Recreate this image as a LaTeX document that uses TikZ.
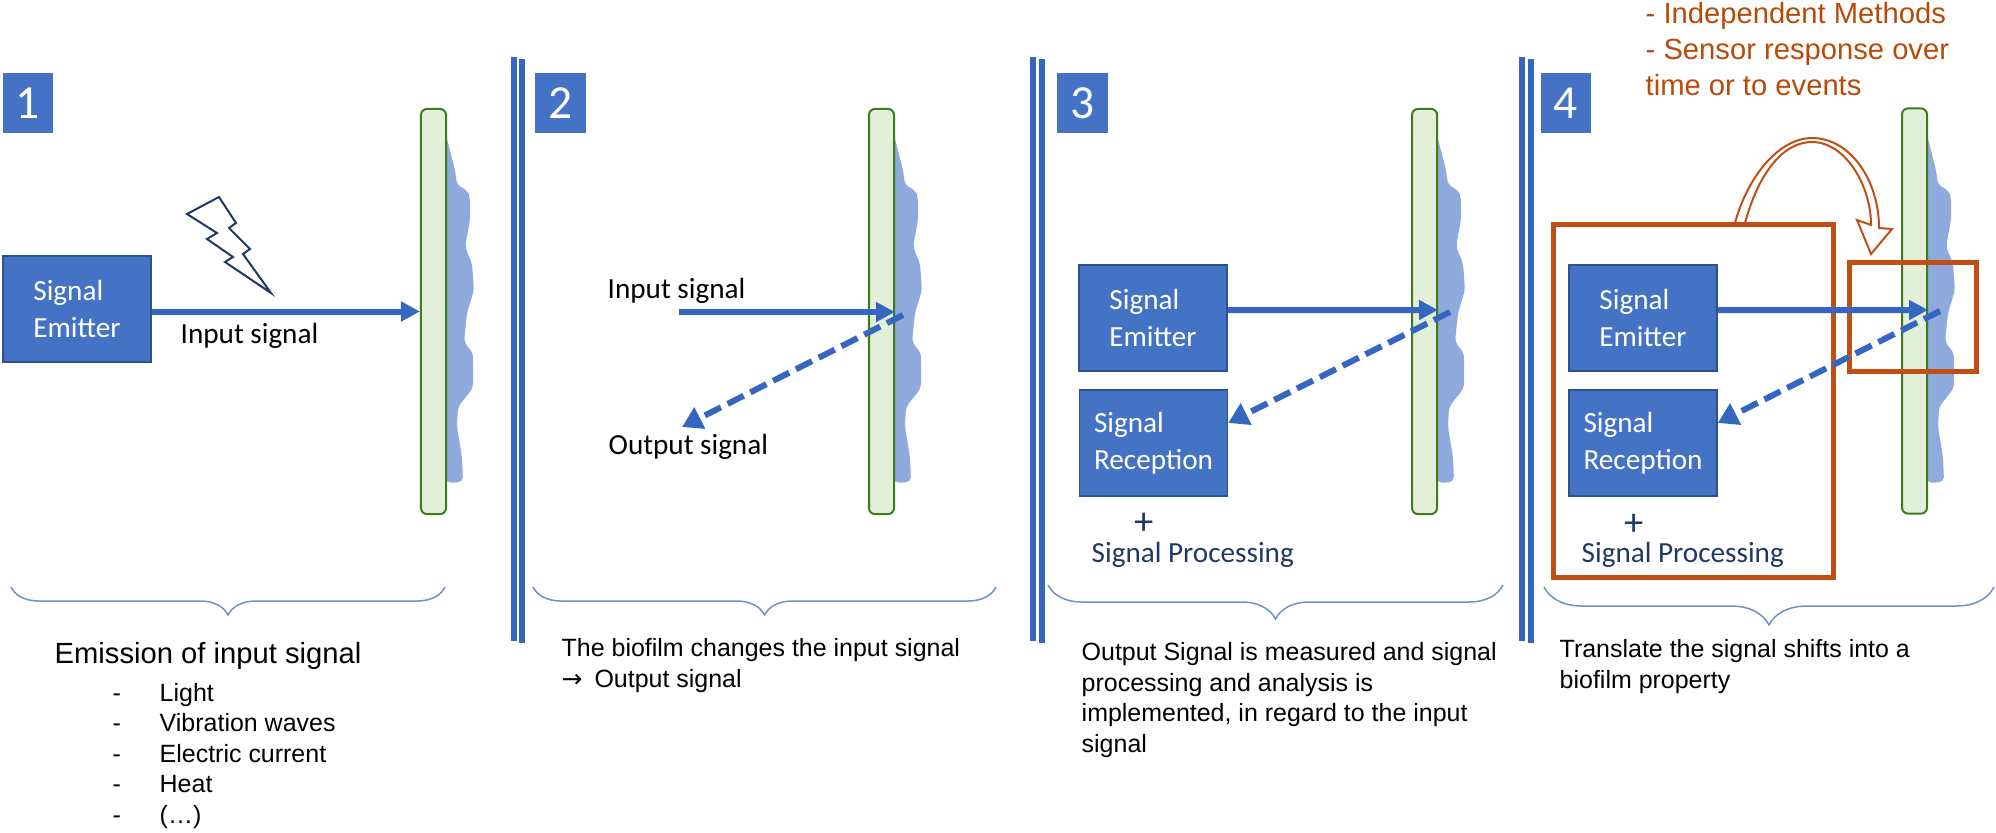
\documentclass[tikz,border=0pt]{standalone}
\usepackage{fontspec}
\setmainfont{Carlito}
\newfontfamily\arialfont{Liberation Sans}
\newfontfamily\arrowfont{DejaVu Sans}
\usetikzlibrary{arrows.meta}
\usetikzlibrary{decorations.pathreplacing}
\definecolor{boxblue}{HTML}{4472C4}
\definecolor{boxedge}{HTML}{2F528F}
\definecolor{lineblue}{HTML}{3566C0}
\definecolor{braceblue}{HTML}{6E91C8}
\definecolor{blobblue}{HTML}{8FAADC}
\definecolor{barfill}{HTML}{E2F0D9}
\definecolor{baredge}{HTML}{3F7A1F}
\definecolor{navy}{HTML}{1F3864}
\definecolor{rust}{HTML}{C04F15}
\definecolor{rusttext}{HTML}{B84A08}
\tikzset{->/.style = {-{Triangle[length=1.9mm, width=1.9mm]}}}
\tikzset{numbox/.style = {fill = boxblue, text = white, inner sep = 0, minimum width = 5mm, minimum height = 6mm, font = \fontsize{13.5pt}{15pt}\selectfont}}
\tikzset{sigbox/.style = {draw = boxedge, fill = boxblue, text = white, inner sep = 0, minimum width = 14.8mm, minimum height = 10.6mm, align = left, font = \fontsize{8.3pt}{10.5pt}\selectfont}}
\tikzset{biobar/.style = {draw = baredge, fill = barfill, line width = 0.2mm, rounded corners = 0.6mm, inner sep = 0, minimum width = 2.5mm, minimum height = 40.5mm}}
\tikzset{label/.style = {anchor = base west, inner sep = 0, font = \fontsize{8.3pt}{10.5pt}\selectfont}}
\tikzset{note/.style = {anchor = base west, inner sep = 0, align = left, font = \arialfont\fontsize{7.1pt}{8.65pt}\selectfont}}
\tikzset{insig/.style = {->, draw = lineblue, line width = 0.6mm}}
\tikzset{outsig/.style = {-{Triangle[length=2mm, width=2.3mm]}, draw = lineblue, line width = 0.6mm, dash pattern = on 1.8mm off 0.75mm}}
\tikzset{sepline/.style = {draw = lineblue, line width = 0.6mm}}
\tikzset{curly/.style = {draw = braceblue, line width = 0.15mm, decorate, decoration = {brace, mirror, amplitude = #1}}}
\tikzset{hilite/.style = {draw = rust, line width = 0.5mm}}

\begin{document}
\begin{tikzpicture}[x = 0.01cm, y = -0.01cm]
  \useasboundingbox (0, 0) rectangle (1996, 833);
  \foreach \sepx in {510.5, 1030, 1519} {
    \draw [sepline] ({\sepx + 3}, 57) -- ({\sepx + 3}, 641);
    \draw [sepline] ({\sepx + 11.5}, 59) -- ({\sepx + 11.5}, 643);
  }
  \foreach \barx in {421, 869, 1412, 1902} {
    \fill [blobblue, rounded corners = 0.5mm, shift = {(\barx, 0)}] (25, 135) -- (34, 170) -- (36, 185) -- (46, 190) -- (49, 197) -- (49, 220) -- (44, 247) -- (51, 263) -- (53, 290) -- (46, 313) -- (43, 342) -- (52, 353) -- (52, 388) -- (37, 407) -- (36, 427) -- (41, 457) -- (42, 482) -- (25, 483) -- cycle;
  }
  \node [biobar] (bar1) at (433.5, 311.5) {};
  \node [biobar] (bar2) at (881.5, 311.5) {};
  \node [biobar] (bar3) at (1424.5, 311.5) {};
  \node [biobar] (bar4) at (1914.5, 311) {};

  \node [numbox] (num1) at (28, 103) {1};
  \node [numbox] (num2) at (560.5, 103) {2};
  \node [numbox] (num3) at (1082.5, 103) {3};
  \node [numbox] (num4) at (1566, 103) {4};

  \node [sigbox] (emit1) at (77, 309) {Signal\\Emitter};
  \node [sigbox] (emit3) at (1153, 318) {Signal\\Emitter};
  \node [sigbox] (recv3) at (1153.5, 443) {Signal\\Reception};
  \node [sigbox] (emit4) at (1643, 318) {Signal\\Emitter};
  \node [sigbox] (recv4) at (1643, 443) {Signal\\Reception};

  \draw [navy, line width = 0.2mm, line join = miter] (187, 214) -- (219, 197) -- (236, 223) -- (229, 228) -- (250, 249) -- (243, 254) -- (271, 293) -- (225, 262) -- (233, 257) -- (207, 239) -- (217, 233) -- cycle;
  \node [label] (in1) at (180, 343) {Input signal};
  \draw [insig] (bar1.west -| emit1.east) -- (bar1.west);

  \node [label] (in2) at (607, 298) {Input signal};
  \node [label] (out2) at (608, 454) {Output signal};
  \coordinate (from2) at (679, 312);
  \coordinate (hit2) at (895, 312);
  \coordinate (back2) at (903, 315);
  \coordinate (end2) at (682, 427);
  \draw [insig] (from2) -- (hit2);
  \draw [outsig] (back2) -- (end2);

  \coordinate (hit3) at (1438, 310);
  \coordinate (back3) at (1450, 312);
  \draw [insig] (emit3.6) -- (hit3);
  \draw [outsig] (back3) -- (recv3.15);
  \node [navy, inner sep = 0, font = \fontsize{11pt}{13pt}\selectfont] (plus3) at (1144, 524) {+};
  \node [label, text = navy] (proc3) at (1091, 562) {Signal Processing};

  \draw [hilite] (1553, 224) rectangle (1833, 577);
  \draw [hilite] (1849, 262) rectangle (1976, 371);
  \draw [rust, line width = 0.2mm, fill = white] (1735, 223) .. controls (1748, 175) and (1780, 138) .. (1812, 138) .. controls (1850, 138) and (1879, 180) .. (1879, 228) -- (1892, 229) -- (1871, 254) -- (1857, 220) -- (1871, 225) .. controls (1871, 185) and (1845, 142) .. (1812, 142) .. controls (1782, 142) and (1758, 175) .. (1745, 223) -- cycle;
  \coordinate (hit4) at (1928, 310);
  \coordinate (back4) at (1940, 311);
  \draw [insig] (emit4.6) -- (hit4);
  \draw [outsig] (back4) -- (recv4.15);
  \node [navy, inner sep = 0, font = \fontsize{11pt}{13pt}\selectfont] (plus4) at (1634, 525) {+};
  \node [label, text = navy] (proc4) at (1581, 562) {Signal Processing};
  \node [anchor = base west, inner sep = 0, align = left, text = rusttext, font = \arialfont\fontsize{8.3pt}{10.2pt}\selectfont] (methods) at (1645, 95) {- Independent Methods\\- Sensor response over\\time or to events};

  \draw [curly = 2.8mm] (11, 587) -- (445, 587);
  \draw [curly = 2.8mm] (533, 587) -- (996, 587);
  \draw [curly = 3.4mm] (1048, 585) -- (1503, 585);
  \draw [curly = 3.8mm] (1544, 587) -- (1994, 587);

  \node [note, font = \arialfont\fontsize{8.3pt}{10pt}\selectfont] (emission) at (54, 663) {Emission of input signal};
  \node [note] (kinds) at (112, 823) {\hbox to 4.7mm{-\hss}Light\\\hbox to 4.7mm{-\hss}Vibration waves\\\hbox to 4.7mm{-\hss}Electric current\\\hbox to 4.7mm{-\hss}Heat\\\hbox to 4.7mm{-\hss}(…)};
  \node [note] (change) at (561, 687) {The biofilm changes the input signal\\{\arrowfont →}\hspace{0.5mm} Output signal};
  \node [note] (measure) at (1081, 752) {Output Signal is measured and signal\\processing and analysis is\\implemented, in regard to the input\\signal};
  \node [note] (translate) at (1559, 688) {Translate the signal shifts into a\\biofilm property};
\end{tikzpicture}
\end{document}
